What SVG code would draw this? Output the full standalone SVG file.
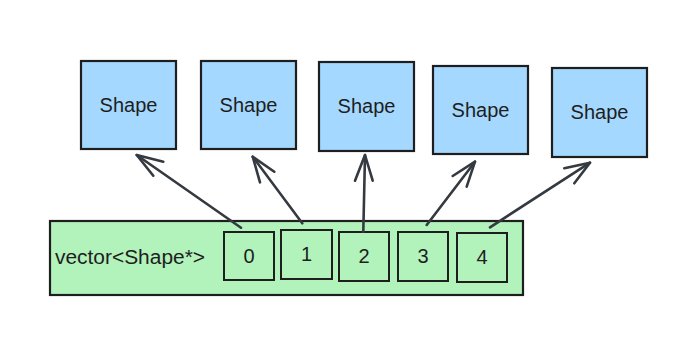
<svg xmlns="http://www.w3.org/2000/svg" width="699" height="343" viewBox="0 0 699 343">
<style>
.shape{fill:#a5d8ff;stroke:#1e1e1e;stroke-width:2.2}
.vec{fill:#b2f2bb;stroke:#1e1e1e;stroke-width:2.2}
.idx{fill:#b2f2bb;stroke:#1e1e1e;stroke-width:2}
.lbl{font-family:"Liberation Sans",Arial,sans-serif;font-size:20px;fill:#1e1e1e;text-anchor:middle}
.conn path{fill:none;stroke:#343a40;stroke-width:2.6;stroke-linecap:round;stroke-linejoin:round}
</style>
<rect width="699" height="343" fill="#ffffff"/>
<g id="shape0"><rect class="shape" x="81" y="61" width="95" height="88"/><text class="lbl" x="128.5" y="112">Shape</text></g>
<g id="shape1"><rect class="shape" x="201" y="61" width="95" height="88"/><text class="lbl" x="248.5" y="112">Shape</text></g>
<g id="shape2"><rect class="shape" x="319" y="62" width="95" height="89"/><text class="lbl" x="366.5" y="113">Shape</text></g>
<g id="shape3"><rect class="shape" x="433" y="66" width="95" height="88"/><text class="lbl" x="480.5" y="117">Shape</text></g>
<g id="shape4"><rect class="shape" x="552" y="68" width="95" height="89"/><text class="lbl" x="599.5" y="119">Shape</text></g>
<g id="vector">
<rect class="vec" x="50" y="221" width="473" height="74"/>
<text class="lbl" x="55" y="264" style="text-anchor:start" textLength="150" lengthAdjust="spacingAndGlyphs">vector&lt;Shape*&gt;</text>
</g>
<g id="idx0"><rect class="idx" x="224" y="232" width="50" height="48"/><text class="lbl" x="249" y="263">0</text></g>
<g id="idx1"><rect class="idx" x="281" y="230" width="51" height="49"/><text class="lbl" x="306.5" y="261">1</text></g>
<g id="idx2"><rect class="idx" x="339" y="232" width="50" height="49"/><text class="lbl" x="364" y="263">2</text></g>
<g id="idx3"><rect class="idx" x="398" y="232" width="50" height="49"/><text class="lbl" x="423" y="263">3</text></g>
<g id="idx4"><rect class="idx" x="457" y="233" width="50" height="49"/><text class="lbl" x="482" y="264">4</text></g>
<g id="connectors" class="conn">
<path d="M241 227.7 L136.7 155"/><path d="M163.3 161.7 L136.7 155 L153.3 175.7"/>
<path d="M302.3 223.3 L252.7 156.7"/><path d="M274.3 171.7 L252.7 156.7 L260 182.3"/>
<path d="M363.3 231.7 L365 155"/><path d="M355 180.7 L365 155 L372.7 180.7"/>
<path d="M426.7 225 L475 161.7"/><path d="M452.7 176 L475 161.7 L466.7 186.7"/>
<path d="M490 227.3 L590 162.7"/><path d="M564.3 168.3 L590 162.7 L574.3 183.3"/>
</g>
</svg>
